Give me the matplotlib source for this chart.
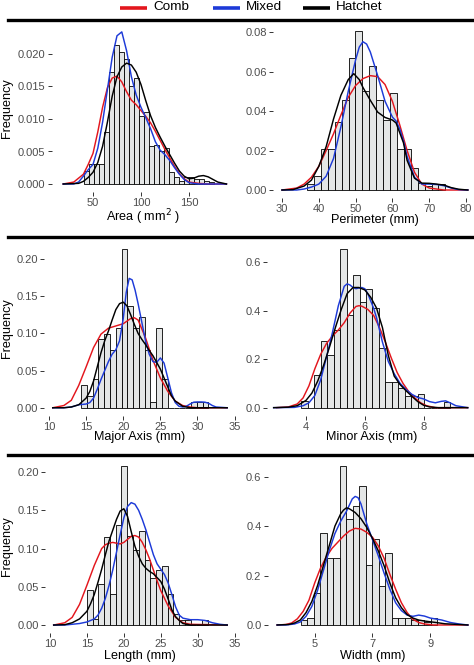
import matplotlib
matplotlib.use("Agg")
import matplotlib.pyplot as plt
from matplotlib.lines import Line2D

plt.rcParams['font.family'] = ['Liberation Sans', 'DejaVu Sans']

W, H = 474, 665
RED, BLUE, BLACK = '#E3161D', '#1D3AD8', '#000000'
FILL = '#E4E6E6'

# ---------------- data ----------------
# Area
area_bin_start, area_bin_w = 41.0, 5.2
area_hist = [0.002, 0.003, 0.003, 0.003, 0.008, 0.0173, 0.0214, 0.0203, 0.0193, 0.015,
             0.0163, 0.0105, 0.011, 0.0058, 0.006, 0.005, 0.0055, 0.0018, 0.001, 0.0005,
             0.001, 0.001, 0.0008, 0.0008, 0.0005, 0.0003]
area_comb_x = [19, 30, 40, 45, 50, 55, 60, 65, 70, 75, 80, 85, 90, 95, 100, 105, 110, 115, 120,
               125, 130, 135, 140, 145, 150, 160, 170, 189]
area_comb_y = [0, 0.0003, 0.0015, 0.003, 0.0047, 0.008, 0.0118, 0.0148, 0.0163, 0.0166, 0.0157,
               0.0142, 0.0129, 0.0122, 0.0113, 0.0104, 0.0094, 0.0081, 0.0067, 0.0053, 0.004,
               0.0027, 0.0016, 0.0008, 0.0003, 0.0001, 0, 0]
area_mixed_x = [19, 30, 35, 40, 45, 50, 55, 60, 65, 70, 75, 80, 85, 90, 95, 100, 105, 110, 115,
                120, 125, 130, 135, 140, 145, 150, 160, 189]
area_mixed_y = [0, 0, 0.0003, 0.0012, 0.0022, 0.003, 0.0055, 0.0095, 0.0145, 0.0195, 0.0228,
                0.0234, 0.0205, 0.0165, 0.0137, 0.0118, 0.0102, 0.0085, 0.0065, 0.0052, 0.0045,
                0.0036, 0.0025, 0.0015, 0.0007, 0.0002, 0, 0]
area_hatchet_x = [19, 35, 40, 45, 50, 55, 60, 65, 70, 75, 80, 85, 90, 95, 100, 105, 110, 115, 120,
                  125, 130, 135, 140, 145, 150, 155, 160, 165, 170, 175, 180, 189]
area_hatchet_y = [0, 0.0001, 0.0004, 0.001, 0.0018, 0.0033, 0.0058, 0.0095, 0.0135, 0.0165, 0.018,
                  0.0186, 0.0183, 0.0172, 0.0153, 0.0128, 0.0105, 0.0087, 0.0072, 0.0058, 0.0045,
                  0.0032, 0.002, 0.0012, 0.0008, 0.0009, 0.0012, 0.0013, 0.0011, 0.0007, 0.0003, 0]

# Perimeter
per_bin_start, per_bin_w = 36.8, 1.88
per_hist = [0.003, 0.007, 0.021, 0.021, 0.0347, 0.0456, 0.0668, 0.0806, 0.050, 0.063,
            0.0456, 0.0355, 0.049, 0.021, 0.021, 0.011, 0.0034, 0.002, 0.003, 0.003]
per_comb_x = [30, 34, 36, 38, 40, 42, 44, 46, 48, 50, 52, 54, 56, 58, 60, 62, 64, 66, 68, 70, 74, 80.5]
per_comb_y = [0, 0.001, 0.003, 0.0065, 0.012, 0.02, 0.0285, 0.038, 0.047, 0.053, 0.0565, 0.058,
              0.0575, 0.0535, 0.045, 0.033, 0.02, 0.009, 0.003, 0.001, 0, 0]
per_mixed_x = [30, 34, 36, 38, 40, 42, 44, 46, 48, 50, 51, 52, 53, 54, 56, 58, 60, 61, 62, 63, 64,
               66, 68, 70, 72, 74, 76, 78, 80.5]
per_mixed_y = [0, 0, 0.0005, 0.0015, 0.003, 0.007, 0.016, 0.032, 0.05, 0.066, 0.0725, 0.0752, 0.074,
               0.07, 0.058, 0.045, 0.037, 0.035, 0.031, 0.025, 0.017, 0.0065, 0.003, 0.003, 0.0028,
               0.0022, 0.001, 0.0002, 0]
per_hatchet_x = [30, 33, 36, 38, 40, 42, 44, 46, 48, 49.5, 51, 52, 54, 56, 58, 60, 61, 62, 63, 64,
                 66, 68, 70, 72, 74, 76, 78, 80.5]
per_hatchet_y = [0, 0.0002, 0.002, 0.005, 0.012, 0.022, 0.036, 0.048, 0.056, 0.059, 0.056, 0.052,
                 0.0455, 0.0395, 0.0368, 0.0355, 0.034, 0.029, 0.024, 0.015, 0.006, 0.0035, 0.0034,
                 0.003, 0.0025, 0.0012, 0.0004, 0]

# Major axis
maj_bin_start, maj_bin_w = 14.31, 0.78
maj_hist = [0.0305, 0.016, 0.038, 0.092, 0.099, 0.077, 0.107, 0.2134, 0.137, 0.107, 0.122,
            0.078, 0.008, 0.107, 0.038, 0, 0, 0, 0, 0.0075, 0.0075, 0.0075]
maj_comb_x = [10.5, 12, 13, 14, 15, 16, 17, 18, 19, 20, 21, 21.5, 22, 23, 24, 25, 26, 27, 28, 29, 30, 34]
maj_comb_y = [0, 0.003, 0.01, 0.03, 0.055, 0.081, 0.099, 0.107, 0.11, 0.113, 0.12, 0.121, 0.118,
              0.094, 0.064, 0.04, 0.022, 0.009, 0.003, 0.001, 0, 0]
maj_mixed_x = [10.5, 12, 13, 14, 15, 15.5, 16, 16.5, 17, 17.5, 18, 18.5, 19, 19.5, 20, 20.4, 20.8,
               21.2, 21.6, 22, 22.5, 23, 23.5, 24, 24.5, 25, 25.5, 26, 26.5, 27, 27.5, 28, 28.5,
               29, 29.5, 30, 30.5, 31, 31.5, 32, 32.5, 34]
maj_mixed_y = [0, 0, 0.001, 0.004, 0.005, 0.007, 0.013, 0.025, 0.038, 0.05, 0.062, 0.072, 0.078,
               0.09, 0.12, 0.155, 0.174, 0.172, 0.158, 0.14, 0.115, 0.09, 0.072, 0.062, 0.061,
               0.067, 0.06, 0.04, 0.02, 0.007, 0.002, 0.001, 0.002, 0.005, 0.0075, 0.0078, 0.0078,
               0.0075, 0.006, 0.003, 0.001, 0]
maj_hatchet_x = [10.5, 12, 13, 14, 15, 15.5, 16, 16.5, 17, 17.5, 18, 18.5, 19, 19.5, 20, 20.5, 21,
                 21.5, 22, 22.5, 23, 23.5, 24, 24.5, 25, 25.5, 26, 26.5, 27, 28, 29, 34]
maj_hatchet_y = [0, 0, 0.001, 0.004, 0.013, 0.022, 0.036, 0.055, 0.074, 0.09, 0.103, 0.118, 0.132,
                 0.14, 0.142, 0.137, 0.125, 0.112, 0.1, 0.092, 0.085, 0.077, 0.07, 0.061, 0.052,
                 0.04, 0.028, 0.016, 0.009, 0.002, 0, 0]

# Minor axis
min_bin_start, min_bin_w = 3.84, 0.22
min_hist = [0.027, 0.0, 0.135, 0.274, 0.217, 0.32, 0.654, 0.38, 0.545, 0.435, 0.49, 0.41,
            0.244, 0.107, 0.107, 0.08, 0.048, 0.048, 0.056, 0, 0, 0, 0.025]
min_comb_x = [3.0, 3.4, 3.7, 3.9, 4.1, 4.3, 4.5, 4.7, 4.9, 5.1, 5.3, 5.5, 5.7, 5.8, 5.9, 6.1, 6.3,
              6.5, 6.7, 6.9, 7.1, 7.3, 7.5, 7.7, 7.9, 8.1, 8.4, 9.5]
min_comb_y = [0, 0.003, 0.015, 0.04, 0.09, 0.16, 0.22, 0.265, 0.295, 0.32, 0.35, 0.39, 0.417, 0.42,
              0.418, 0.405, 0.38, 0.33, 0.27, 0.205, 0.145, 0.1, 0.065, 0.04, 0.02, 0.008, 0, 0]
min_mixed_x = [2.9, 3.6, 3.9, 4.1, 4.3, 4.5, 4.7, 4.9, 5.1, 5.3, 5.4, 5.5, 5.6, 5.7, 5.8, 5.9, 6.0,
               6.1, 6.2, 6.3, 6.4, 6.6, 6.8, 7.0, 7.2, 7.4, 7.6, 7.8, 8.0, 8.2, 8.4, 8.6, 8.75,
               8.9, 9.1, 9.5]
min_mixed_y = [0, 0.001, 0.008, 0.02, 0.05, 0.115, 0.21, 0.31, 0.42, 0.5, 0.51, 0.505, 0.495, 0.49,
               0.493, 0.495, 0.49, 0.47, 0.44, 0.41, 0.37, 0.27, 0.19, 0.14, 0.1, 0.075, 0.055,
               0.042, 0.036, 0.025, 0.02, 0.026, 0.028, 0.02, 0.008, 0]
min_hatchet_x = [2.9, 3.4, 3.7, 4.0, 4.2, 4.4, 4.6, 4.8, 5.0, 5.2, 5.4, 5.6, 5.8, 6.0, 6.2, 6.4,
                 6.6, 6.8, 7.0, 7.2, 7.4, 7.6, 7.8, 8.0, 8.2, 8.5, 9.5]
min_hatchet_y = [0, 0.002, 0.008, 0.03, 0.06, 0.11, 0.175, 0.25, 0.33, 0.405, 0.47, 0.495, 0.495,
                 0.485, 0.455, 0.41, 0.33, 0.215, 0.13, 0.095, 0.07, 0.047, 0.025, 0.01, 0.003, 0, 0]

# Length
len_bin_start, len_bin_w = 15.0, 0.78
len_hist = [0.046, 0.008, 0.054, 0.115, 0.04, 0.131, 0.2074, 0.116, 0.098, 0.1225, 0.085,
            0.061, 0.072, 0.077, 0.04, 0.014, 0.007, 0.007, 0, 0, 0.007]
len_comb_x = [10.5, 12, 13, 14, 15, 16, 17, 17.5, 18, 18.5, 19, 19.5, 20, 20.5, 21, 21.5, 22, 22.5,
              23, 23.5, 24, 24.5, 25, 25.5, 26, 27, 28, 29, 34]
len_comb_y = [0, 0.003, 0.01, 0.027, 0.052, 0.078, 0.1, 0.105, 0.107, 0.108, 0.107, 0.106, 0.108,
              0.112, 0.116, 0.117, 0.115, 0.108, 0.098, 0.086, 0.072, 0.058, 0.045, 0.035, 0.025,
              0.01, 0.003, 0.001, 0]
len_mixed_x = [10.5, 12, 14, 15, 16, 16.5, 17, 17.5, 18, 18.5, 19, 19.5, 20, 20.5, 21, 21.5, 22,
               22.5, 23, 23.5, 24, 24.5, 25, 25.5, 26, 26.5, 27, 27.5, 28, 29, 30, 31, 32, 33, 34]
len_mixed_y = [0, 0, 0.002, 0.004, 0.008, 0.013, 0.022, 0.035, 0.052, 0.072, 0.095, 0.118, 0.14,
               0.155, 0.16, 0.158, 0.15, 0.138, 0.124, 0.108, 0.092, 0.08, 0.073, 0.066, 0.055,
               0.04, 0.024, 0.013, 0.009, 0.007, 0.007, 0.006, 0.003, 0.001, 0]
len_hatchet_x = [10.5, 12, 13, 14, 15, 15.5, 16, 16.5, 17, 17.5, 18, 18.5, 19, 19.5, 20, 20.5, 21,
                 21.5, 22, 22.5, 23, 23.5, 24, 24.5, 25, 25.5, 26, 26.5, 27, 27.5, 28, 29, 34]
len_hatchet_y = [0, 0.0005, 0.003, 0.008, 0.018, 0.028, 0.04, 0.056, 0.073, 0.092, 0.11, 0.124,
                 0.138, 0.149, 0.152, 0.142, 0.122, 0.103, 0.09, 0.08, 0.074, 0.07, 0.067, 0.062,
                 0.057, 0.047, 0.034, 0.02, 0.011, 0.006, 0.002, 0, 0]

# Width
wid_bin_start, wid_bin_w = 4.516, 0.2248
wid_hist = [0.02, 0.027, 0.131, 0.374, 0.27, 0.27, 0.643, 0.428, 0.481, 0.562, 0.243, 0.347,
            0.158, 0.293, 0.027, 0.027, 0.027, 0.02, 0.02, 0.013, 0.027]
wid_comb_x = [3.7, 4.0, 4.2, 4.4, 4.6, 4.8, 5.0, 5.2, 5.4, 5.6, 5.8, 6.0, 6.2, 6.4, 6.6, 6.8, 7.0,
              7.2, 7.4, 7.6, 7.8, 8.0, 8.2, 8.4, 8.6, 8.8, 9.1, 10.3]
wid_comb_y = [0, 0.002, 0.008, 0.025, 0.055, 0.1, 0.17, 0.23, 0.275, 0.31, 0.335, 0.36, 0.38,
              0.391, 0.388, 0.375, 0.355, 0.32, 0.27, 0.205, 0.145, 0.09, 0.05, 0.023, 0.01,
              0.004, 0, 0]
wid_mixed_x = [3.7, 4.0, 4.3, 4.5, 4.7, 4.9, 5.1, 5.3, 5.5, 5.7, 5.9, 6.1, 6.2, 6.3, 6.4, 6.5, 6.6,
               6.7, 6.8, 7.0, 7.2, 7.4, 7.6, 7.8, 8.0, 8.2, 8.4, 8.6, 8.8, 9.0, 9.2, 9.4, 9.7,
               10.0, 10.3]
wid_mixed_y = [0, 0, 0.004, 0.012, 0.035, 0.075, 0.14, 0.22, 0.3, 0.37, 0.42, 0.46, 0.485, 0.51,
               0.52, 0.515, 0.49, 0.45, 0.41, 0.345, 0.28, 0.21, 0.145, 0.09, 0.058, 0.04, 0.035,
               0.04, 0.036, 0.028, 0.024, 0.02, 0.01, 0.004, 0]
wid_hatchet_x = [3.7, 4.1, 4.3, 4.5, 4.7, 4.9, 5.1, 5.3, 5.5, 5.7, 5.9, 6.0, 6.1, 6.2, 6.4, 6.6,
                 6.8, 7.0, 7.2, 7.4, 7.6, 7.8, 8.0, 8.2, 8.4, 8.6, 8.8, 9.0, 9.2, 9.5, 10.3]
wid_hatchet_y = [0, 0.002, 0.008, 0.02, 0.05, 0.095, 0.16, 0.24, 0.32, 0.4, 0.45, 0.465, 0.474,
                 0.47, 0.455, 0.43, 0.395, 0.35, 0.3, 0.24, 0.17, 0.11, 0.07, 0.042, 0.028, 0.02,
                 0.016, 0.013, 0.01, 0.005, 0]

legend_labels = ['Comb', 'Mixed', 'Hatchet']

# ---------------- layout ----------------
fig = plt.figure(figsize=(W / 100, H / 100), dpi=100)


def add_ax(l, r, t, b):
    return fig.add_axes([l / W, 1 - b / H, (r - l) / W, (b - t) / H])


def panel(box, xlim, ylim, xticks, yticks, ylabels, hist, start, w, curves, xlabel, xlab_y,
          ylabel=True):
    ax = add_ax(*box)
    n = len(hist)
    lefts = [start + i * w for i in range(n)]
    ax.bar(lefts, hist, width=w, align='edge', color=FILL, edgecolor='black', linewidth=0.6,
           zorder=1)
    for (cx, cy), col in zip(curves, [RED, BLUE, BLACK]):
        ax.plot(cx, cy, color=col, linewidth=1.05, zorder=3, solid_joinstyle='round')
    ax.set_xlim(*xlim)
    ax.set_ylim(*ylim)
    ax.set_xticks(xticks)
    ax.set_xticklabels([str(t) for t in xticks])
    ax.set_yticks(yticks)
    ax.set_yticklabels(ylabels)
    for s in ax.spines.values():
        s.set_visible(False)
    ax.tick_params(axis='both', length=2.6, width=0.7, color='#333333', labelcolor='#4D4D4D',
                   labelsize=8, pad=1.8)
    ax.patch.set_alpha(0)
    cx = (box[0] + box[1]) / 2
    fig.text(cx / W, 1 - xlab_y / H, xlabel, ha='center', va='center', fontsize=9.1,
             color='black')
    if ylabel:
        fig.text(7.5 / W, 1 - ((box[2] + box[3]) / 2) / H, 'Frequency', rotation=90,
                 ha='center', va='center', fontsize=9.1, color='black')
    return ax


panel((51.7, 234.6, 23.45, 191.8), (7, 197.5), (-0.0012, 0.0247), [50, 100, 150],
      [0, 0.005, 0.010, 0.015, 0.020], ['0.000', '0.005', '0.010', '0.015', '0.020'],
      area_hist, area_bin_start, area_bin_w,
      [(area_comb_x, area_comb_y), (area_mixed_x, area_mixed_y), (area_hatchet_x, area_hatchet_y)],
      'Area ( mm$^2$ )', 217)

panel((272.8, 477.4, 23.2, 197.9), (27.5, 83.1), (-0.004, 0.0846), [30, 40, 50, 60, 70, 80],
      [0, 0.02, 0.04, 0.06, 0.08], ['0.00', '0.02', '0.04', '0.06', '0.08'],
      per_hist, per_bin_start, per_bin_w,
      [(per_comb_x, per_comb_y), (per_mixed_x, per_mixed_y), (per_hatchet_x, per_hatchet_y)],
      'Perimeter (mm)', 220, ylabel=False)

panel((44.2, 234.6, 241.2, 415.7), (9.35, 34.95), (-0.0107, 0.224), [10, 15, 20, 25, 30, 35],
      [0, 0.05, 0.10, 0.15, 0.20], ['0.00', '0.05', '0.10', '0.15', '0.20'],
      maj_hist, maj_bin_start, maj_bin_w,
      [(maj_comb_x, maj_comb_y), (maj_mixed_x, maj_mixed_y), (maj_hatchet_x, maj_hatchet_y)],
      'Major Axis (mm)', 437)

panel((266.9, 477.4, 240.9, 415.6), (2.67, 9.83), (-0.0327, 0.687), [4, 6, 8],
      [0, 0.2, 0.4, 0.6], ['0.0', '0.2', '0.4', '0.6'],
      min_hist, min_bin_start, min_bin_w,
      [(min_comb_x, min_comb_y), (min_mixed_x, min_mixed_y), (min_hatchet_x, min_hatchet_y)],
      'Minor Axis (mm)', 437, ylabel=False)

panel((45.2, 234.6, 458.4, 633.0), (9.35, 34.95), (-0.0104, 0.2178), [10, 15, 20, 25, 30, 35],
      [0, 0.05, 0.10, 0.15, 0.20], ['0.00', '0.05', '0.10', '0.15', '0.20'],
      len_hist, len_bin_start, len_bin_w,
      [(len_comb_x, len_comb_y), (len_mixed_x, len_mixed_y), (len_hatchet_x, len_hatchet_y)],
      'Length (mm)', 656)

panel((267.6, 477.4, 458.1, 632.9), (3.37, 10.63), (-0.032, 0.675), [5, 7, 9],
      [0, 0.2, 0.4, 0.6], ['0.0', '0.2', '0.4', '0.6'],
      wid_hist, wid_bin_start, wid_bin_w,
      [(wid_comb_x, wid_comb_y), (wid_mixed_x, wid_mixed_y), (wid_hatchet_x, wid_hatchet_y)],
      'Width (mm)', 656, ylabel=False)

# thick separator lines
for yy in [20, 236.7, 455]:
    fig.add_artist(Line2D([8 / W, 1.0], [1 - yy / H, 1 - yy / H], color='black', linewidth=2.4,
                          transform=fig.transFigure))

# legend
for (x0, x1, tx), col, lab in zip([(120, 147, 153), (213, 240, 246), (303, 330, 336)],
                                  [RED, BLUE, BLACK], legend_labels):
    fig.add_artist(Line2D([x0 / W, x1 / W], [1 - 7.5 / H, 1 - 7.5 / H], color=col,
                          linewidth=2.6, transform=fig.transFigure, solid_capstyle='butt'))
    fig.text(tx / W, 1 - 7.5 / H, lab, ha='left', va='center', fontsize=9.7, color='black')

fig.savefig('out.png', dpi=100, facecolor='white')
